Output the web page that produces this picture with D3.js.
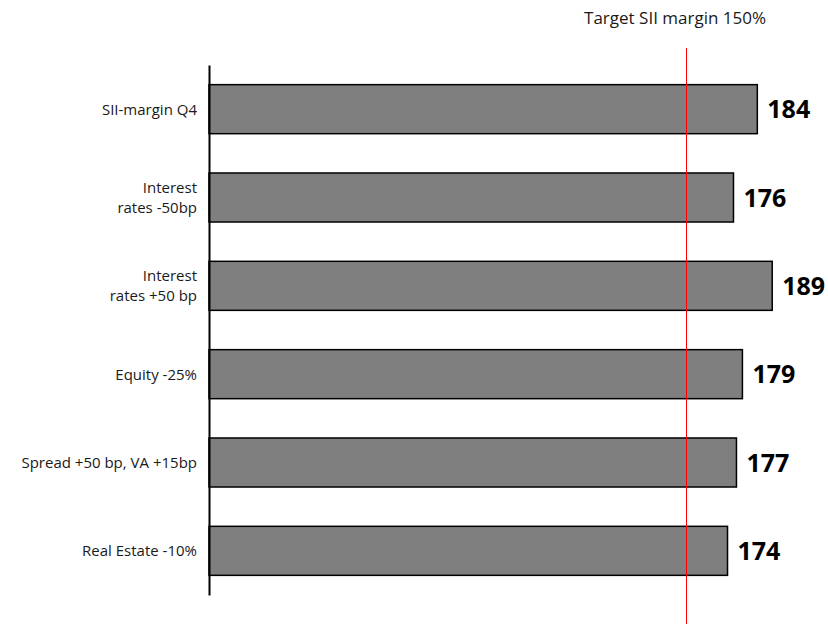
<!DOCTYPE html>
<html>
<head>
<meta charset="utf-8">
<script src="https://cdn.jsdelivr.net/npm/d3@7"></script>
<style>
  html, body { margin: 0; padding: 0; background: #fff; }
  svg { display: block; font-family: "Open Sans", "Noto Sans", sans-serif; }
</style>
</head>
<body>
<svg id="chart" width="828" height="624"></svg>
<script>
const categories = [
  ["SII-margin Q4"],
  ["Interest", "rates -50bp"],
  ["Interest", "rates +50 bp"],
  ["Equity -25%"],
  ["Spread +50 bp, VA +15bp"],
  ["Real Estate -10%"]
];
const values = [184, 176, 189, 179, 177, 174];
const targetPosition = [160];
const targetLabel = "Target SII margin 150%";

(function () {
const svg = d3.select("#chart");
const x0 = 209, yTop = 65, yBottom = 595;

const x = d3.scaleLinear().domain([0, 200]).range([x0, x0 + 200 * 2.98]);
const y = d3.scaleBand()
  .domain(d3.range(categories.length))
  .range([yTop, yBottom])
  .paddingInner(0.445)
  .paddingOuter(0.2225);

// bars
svg.append("g").selectAll("rect")
  .data(values)
  .join("rect")
  .attr("x", x(0))
  .attr("y", (d, i) => y(i))
  .attr("width", d => x(d) - x(0))
  .attr("height", y.bandwidth())
  .attr("fill", "#7f7f7f")
  .attr("stroke", "#000")
  .attr("stroke-width", 1.5);

// value labels
svg.append("g").selectAll("text")
  .data(values)
  .join("text")
  .attr("x", d => x(d) + 10)
  .attr("y", (d, i) => y(i) + y.bandwidth() / 2)
  .attr("dy", "0.36em")
  .attr("font-size", 25)
  .attr("font-weight", "bold")
  .attr("fill", "#000")
  .text(d => d);

// y axis
const yAxis = d3.axisLeft(y).tickSize(0).tickPadding(12).tickFormat(() => "");
const ag = svg.append("g").attr("transform", `translate(${x0},0)`).call(yAxis);
ag.select(".domain").attr("stroke", "#000").attr("stroke-width", 2);

// category labels
const lab = svg.append("g").selectAll("text")
  .data(categories)
  .join("text")
  .attr("text-anchor", "end")
  .attr("font-size", 15)
  .attr("fill", "#1a1a1a");
lab.each(function(lines, i) {
  const t = d3.select(this);
  const cy = y(i) + y.bandwidth() / 2;
  const lh = 20.5;
  lines.forEach((ln, k) => {
    t.append("tspan")
      .attr("x", x0 - 12)
      .attr("y", cy + (k - (lines.length - 1) / 2) * lh)
      .attr("dy", "0.36em")
      .text(ln);
  });
});

// target line
svg.append("g").selectAll("line")
  .data(targetPosition)
  .join("line")
  .attr("x1", d => Math.round(x(d)) + 0.5).attr("x2", d => Math.round(x(d)) + 0.5)
  .attr("y1", 48).attr("y2", 624)
  .attr("stroke", "#ff0000")
  .attr("stroke-width", 1)
  .attr("shape-rendering", "crispEdges");

svg.append("text")
  .attr("x", 766)
  .attr("y", 24)
  .attr("text-anchor", "end")
  .attr("font-size", 17)
  .attr("fill", "#1a1a1a")
  .text(targetLabel);
})();
</script>
</body>
</html>
